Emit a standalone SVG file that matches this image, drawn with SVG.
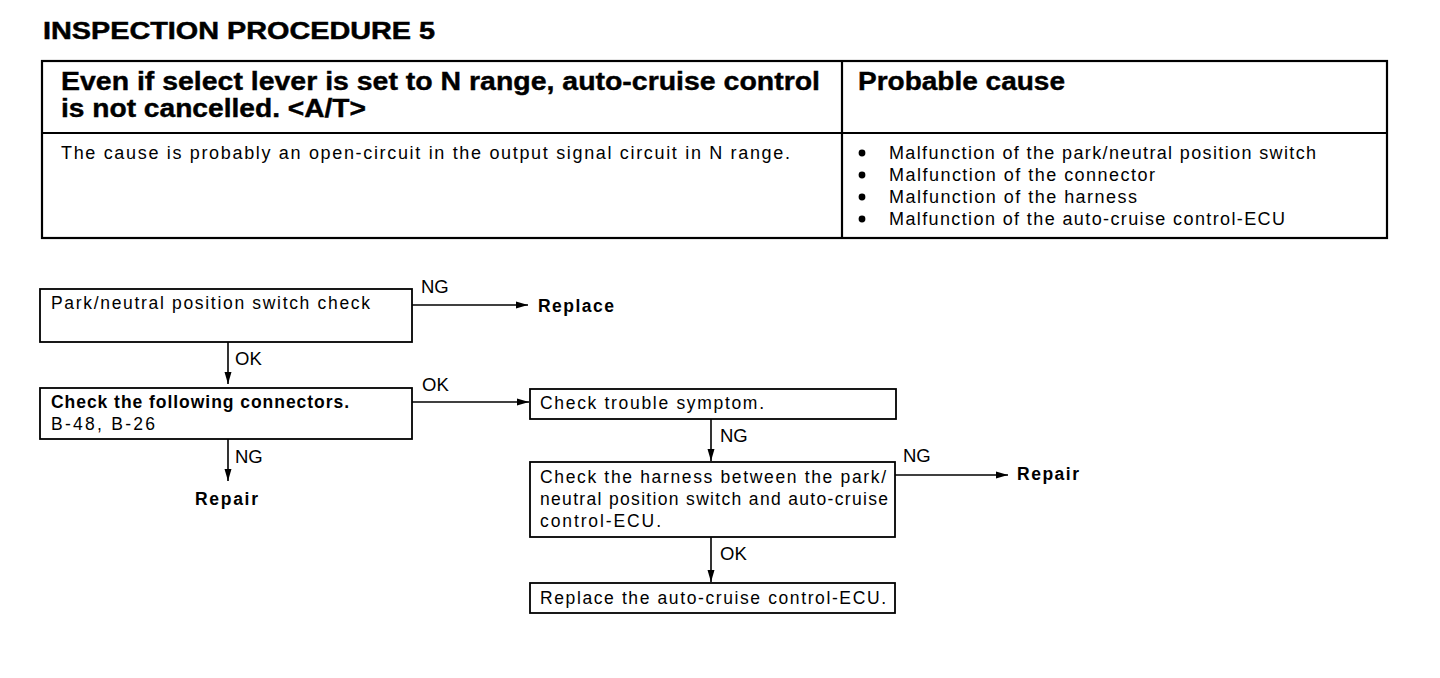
<svg xmlns="http://www.w3.org/2000/svg" width="1440" height="678" viewBox="0 0 1440 678">
<style>
text{font-family:"Liberation Sans",Arial,sans-serif;fill:#000}
.t{font-size:24px;font-weight:bold;stroke:#000;stroke-width:0.5}
.h{font-size:25px;font-weight:bold;stroke:#000;stroke-width:0.4}
.b{font-size:18px}
.n{font-size:17.5px}
.l{font-size:18.5px}
.nb{font-size:17.5px;font-weight:bold}
.box{fill:#fff;stroke:#000;stroke-width:1.8}
.tbl{fill:none;stroke:#000;stroke-width:2.2}
.c{fill:none;stroke:#000;stroke-width:1.6;marker-end:url(#ah)}
</style>
<defs>
<marker id="ah" markerWidth="14" markerHeight="8" refX="12" refY="4" orient="auto" markerUnits="userSpaceOnUse">
<path d="M0,0.5 L12,4 L0,7.5 Z" fill="#000"/>
</marker>
</defs>
<rect width="1440" height="678" fill="#fff"/>
<text class="t" x="43" y="39" textLength="392" lengthAdjust="spacingAndGlyphs">INSPECTION PROCEDURE 5</text>
<g id="table">
<rect class="tbl" x="42" y="61" width="1345" height="177"/>
<line class="tbl" x1="42" y1="133" x2="1387" y2="133"/>
<line class="tbl" x1="842" y1="61" x2="842" y2="238"/>
<text class="h" x="61" y="90" textLength="759" lengthAdjust="spacingAndGlyphs">Even if select lever is set to N range, auto-cruise control</text>
<text class="h" x="61" y="117" textLength="305" lengthAdjust="spacingAndGlyphs">is not cancelled. &lt;A/T&gt;</text>
<text class="h" x="858" y="90" textLength="207" lengthAdjust="spacingAndGlyphs">Probable cause</text>
<text class="b" x="61" y="159" textLength="729" lengthAdjust="spacing">The cause is probably an open-circuit in the output signal circuit in N range.</text>
<circle cx="862" cy="153" r="3.4"/>
<circle cx="862" cy="175" r="3.4"/>
<circle cx="862" cy="197" r="3.4"/>
<circle cx="862" cy="219" r="3.4"/>
<text class="b" x="889" y="159" textLength="427" lengthAdjust="spacing">Malfunction of the park/neutral position switch</text>
<text class="b" x="889" y="181" textLength="266" lengthAdjust="spacing">Malfunction of the connector</text>
<text class="b" x="889" y="203" textLength="248" lengthAdjust="spacing">Malfunction of the harness</text>
<text class="b" x="889" y="225" textLength="396" lengthAdjust="spacing">Malfunction of the auto-cruise control-ECU</text>
</g>
<g id="connectors">
<line class="c" x1="412" y1="305" x2="528" y2="305"/>
<line class="c" x1="228" y1="342" x2="228" y2="384"/>
<line class="c" x1="412" y1="402" x2="529" y2="402"/>
<line class="c" x1="228" y1="439" x2="228" y2="481"/>
<line class="c" x1="711" y1="419" x2="711" y2="461"/>
<line class="c" x1="895" y1="475" x2="1008" y2="475"/>
<line class="c" x1="711" y1="537" x2="711" y2="582"/>
<text class="l" x="421" y="293">NG</text>
<text class="l" x="235" y="365">OK</text>
<text class="l" x="422" y="391">OK</text>
<text class="l" x="235" y="463">NG</text>
<text class="l" x="720" y="442">NG</text>
<text class="l" x="903" y="462">NG</text>
<text class="l" x="720" y="560">OK</text>
</g>
<g id="n1">
<rect class="box" x="40" y="289" width="372" height="53"/>
<text class="n" x="51" y="309" textLength="319" lengthAdjust="spacing">Park/neutral position switch check</text>
</g>
<g id="n2">
<text class="nb" x="538" y="312" textLength="76" lengthAdjust="spacing">Replace</text>
</g>
<g id="n3">
<rect class="box" x="40" y="388" width="372" height="51"/>
<text class="nb" x="51" y="408" textLength="298" lengthAdjust="spacing">Check the following connectors.</text>
<text class="n" x="51" y="430" textLength="104" lengthAdjust="spacing">B-48, B-26</text>
</g>
<g id="n4">
<text class="nb" x="195" y="505" textLength="63" lengthAdjust="spacing">Repair</text>
</g>
<g id="n5">
<rect class="box" x="530" y="389" width="366" height="30"/>
<text class="n" x="540" y="409" textLength="224" lengthAdjust="spacing">Check trouble symptom.</text>
</g>
<g id="n6">
<rect class="box" x="530" y="462" width="365" height="75"/>
<text class="n" x="540" y="483" textLength="346" lengthAdjust="spacing">Check the harness between the park/</text>
<text class="n" x="540" y="505" textLength="348" lengthAdjust="spacing">neutral position switch and auto-cruise</text>
<text class="n" x="540" y="527" textLength="121" lengthAdjust="spacing">control-ECU.</text>
</g>
<g id="n7">
<text class="nb" x="1017" y="480" textLength="62" lengthAdjust="spacing">Repair</text>
</g>
<g id="n8">
<rect class="box" x="530" y="583" width="365" height="30"/>
<text class="n" x="540" y="604" textLength="346" lengthAdjust="spacing">Replace the auto-cruise control-ECU.</text>
</g>
</svg>
